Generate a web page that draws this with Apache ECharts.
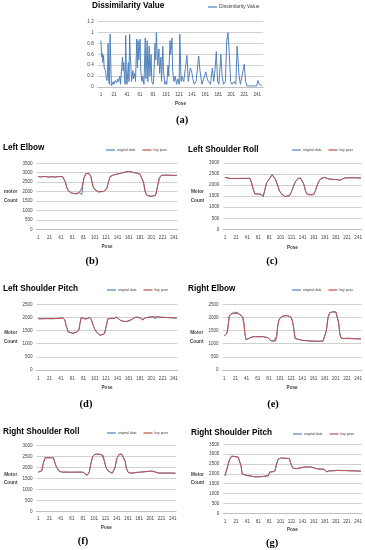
<!DOCTYPE html>
<html><head><meta charset="utf-8">
<script src="https://cdn.jsdelivr.net/npm/echarts@6/dist/echarts.min.js"></script>
<style>html,body{margin:0;padding:0;background:#fff}#c{width:365px;height:550px}</style>
</head><body><div id="c"></div>
<script>
// ---------- data ----------
const poseTicks = [1,21,41,61,81,101,121,141,161,181,201,221,241];

const dissimilarity = [[1,0.85],[2,0.55],[3,0.62],[4,0.45],[5,0.58],[6,0.35],[8,0.3],[9,0.18],[10,0.12],[11,0.2],[12,0.8],[13,0.1],[14,0.05],[15,0.97],[17,0.02],[18,0.05],[20,0.1],[21,0.05],[23,0.12],[25,0.08],[27,0.15],[28,0.1],[30,0.2],[31,0.05],[33,0.02],[34,0.55],[35,0.3],[36,0.45],[38,0.05],[39,0.95],[40,0.2],[41,0.05],[43,0.45],[44,0.1],[45,0.97],[46,0.6],[48,0.1],[50,0.3],[51,0.15],[53,0.25],[54,0.1],[56,0.88],[57,0.35],[58,0.85],[59,0.5],[61,0.88],[62,0.3],[64,0.1],[65,0.2],[67,0.05],[69,0.9],[70,0.15],[72,0.85],[73,0.1],[75,0.75],[76,0.2],[78,0.6],[79,0.1],[81,0.05],[82,0.15],[84,0.8],[85,0.5],[86,1.0],[88,0.4],[90,0.7],[91,0.25],[93,0.55],[94,0.1],[96,0.75],[97,0.3],[99,0.05],[101,0.1],[102,0.05],[104,0.4],[105,0.2],[107,0.85],[108,0.6],[110,0.9],[111,0.3],[113,0.1],[115,0.2],[117,0.05],[119,0.15],[121,0.05],[122,0.97],[124,0.1],[125,0.2],[128,0.1],[133,0.58],[135,0.1],[138,0.35],[140,0.3],[142,0.15],[144,0.05],[147,0.1],[151,0.57],[153,0.3],[156,0.05],[159,0.02],[162,0.28],[164,0.15],[166,0.1],[169,0.05],[172,0.35],[174,0.1],[176,0.3],[178,0.65],[180,0.1],[182,0.05],[185,0.6],[187,0.2],[189,0.05],[192,0.1],[194,0.85],[196,1.0],[198,0.6],[200,0.1],[202,0.05],[205,0.1],[208,0.05],[210,0.75],[213,0.2],[215,0.05],[218,0.05],[221,0.42],[223,0.1],[225,0.02],[232,0.02],[240,0.02],[242,0.12],[244,0.05],[248,0.02]];

const leftElbowOrig = [[1,2800],[5,2780],[8,2760],[12,2800],[16,2790],[20,2770],[25,2790],[30,2770],[35,2790],[40,2800],[44,2790],[47,2750],[49,2500],[51,2250],[54,2050],[57,1980],[60,1920],[64,1900],[68,1880],[71,1860],[73,1950],[76,2050],[78,1850],[80,2400],[82,2750],[85,2950],[88,3000],[91,2950],[94,2800],[96,2500],[98,2250],[101,2100],[104,2000],[108,1980],[112,2000],[116,2000],[119,2050],[122,2150],[125,2500],[128,2800],[131,2870],[136,2900],[141,2930],[146,2970],[151,3000],[156,3050],[161,3060],[166,3040],[171,3000],[176,2970],[181,2920],[184,2850],[187,2500],[190,2000],[193,1800],[196,1760],[200,1750],[204,1770],[208,1790],[210,2000],[212,2300],[215,2700],[218,2850],[222,2870],[230,2870],[240,2860],[246,2860]];
const leftElbowKey = [[1,2800],[5,2780],[8,2760],[12,2800],[16,2790],[20,2770],[25,2790],[30,2770],[35,2790],[40,2800],[44,2790],[47,2750],[49,2500],[51,2250],[54,2050],[57,1980],[60,1920],[64,1900],[68,1880],[71,1860],[73,1950],[76,2080],[78,2200],[80,2450],[82,2750],[85,2950],[88,3000],[91,2950],[94,2800],[96,2500],[98,2250],[101,2100],[104,2000],[108,1980],[112,2000],[116,2000],[119,2050],[122,2150],[125,2500],[128,2800],[131,2870],[136,2900],[141,2930],[146,2970],[151,3000],[156,3050],[161,3060],[166,3040],[171,3000],[176,2970],[181,2920],[184,2850],[187,2500],[190,2000],[193,1800],[196,1760],[200,1750],[204,1770],[208,1790],[210,2000],[212,2300],[215,2700],[218,2850],[222,2870],[230,2870],[240,2860],[246,2860]];

const leftShoulderRollOrig = [[1,2350],[5,2330],[10,2300],[20,2300],[30,2300],[40,2300],[46,2310],[49,2100],[52,1800],[55,1600],[58,1550],[62,1600],[66,1580],[68,1600],[70,1480],[72,1700],[76,2100],[80,2250],[83,2350],[86,2470],[89,2380],[92,2250],[95,2050],[99,1750],[102,1620],[105,1550],[109,1480],[113,1500],[117,1520],[120,1650],[123,1850],[126,2050],[129,2200],[133,2300],[137,2320],[140,2250],[143,2050],[146,1750],[149,1580],[152,1550],[157,1550],[161,1580],[164,1750],[168,2050],[172,2250],[176,2330],[180,2350],[185,2300],[190,2270],[195,2260],[200,2250],[204,2260],[208,2220],[212,2260],[216,2320],[222,2340],[230,2340],[238,2330],[244,2310],[246,2330]];
const leftShoulderRollKey = [[1,2350],[10,2300],[46,2310],[49,2100],[52,1800],[55,1600],[58,1550],[62,1600],[66,1580],[68,1600],[70,1480],[72,1700],[76,2100],[80,2250],[86,2470],[89,2380],[92,2250],[95,2050],[99,1750],[102,1620],[109,1480],[117,1520],[120,1650],[123,1850],[126,2050],[129,2200],[133,2300],[137,2320],[140,2250],[143,2050],[146,1750],[149,1580],[152,1550],[161,1580],[164,1750],[168,2050],[172,2250],[180,2350],[190,2270],[200,2250],[208,2220],[216,2320],[238,2330],[246,2330]];

const leftShoulderPitchOrig = [[1,1950],[3,2000],[8,1950],[15,1960],[25,1950],[35,1960],[41,1980],[45,1980],[48,1900],[50,1700],[52,1650],[54,1450],[57,1420],[62,1400],[66,1420],[70,1450],[73,1550],[75,1800],[77,2000],[79,2050],[82,1950],[87,1950],[90,1980],[92,2000],[95,1900],[98,1700],[101,1550],[104,1450],[107,1400],[110,1320],[114,1350],[118,1380],[121,1650],[124,1950],[127,2000],[131,1970],[135,1960],[139,2010],[143,1950],[147,1880],[152,1850],[158,1850],[163,1880],[167,1930],[172,2000],[177,2010],[182,1970],[186,1900],[189,1980],[192,2020],[198,2020],[204,2030],[208,1940],[210,2020],[216,2010],[224,2000],[232,1990],[240,1980],[246,1980]];
const leftShoulderPitchKey = [[1,1950],[3,2000],[8,1950],[35,1960],[45,1980],[48,1900],[50,1700],[52,1650],[54,1450],[57,1420],[62,1400],[70,1450],[73,1550],[75,1800],[77,2000],[79,2050],[82,1950],[87,1950],[92,2000],[95,1900],[98,1700],[101,1550],[104,1450],[107,1400],[110,1320],[118,1380],[121,1650],[124,1950],[127,2000],[135,1960],[139,2010],[143,1950],[147,1880],[152,1850],[158,1850],[167,1930],[172,2000],[177,2010],[182,1970],[186,1900],[189,1980],[192,2020],[204,2030],[216,2010],[246,1980]];

const rightElbowOrig = [[1,1300],[4,1330],[6,1400],[8,1700],[10,2050],[13,2130],[16,2150],[19,2200],[22,2220],[25,2180],[28,2120],[31,2080],[34,2000],[36,1800],[38,1400],[40,1150],[42,1130],[45,1200],[50,1250],[55,1270],[60,1260],[65,1260],[70,1270],[75,1250],[79,1230],[82,1180],[85,1110],[90,1100],[93,1100],[95,1300],[97,1700],[99,1900],[102,2000],[106,2050],[112,2070],[117,2050],[121,2000],[124,1800],[126,1500],[128,1200],[131,1150],[135,1160],[140,1130],[150,1110],[160,1100],[170,1090],[178,1100],[181,1150],[184,1500],[187,2000],[190,2180],[195,2210],[201,2210],[204,2150],[206,1800],[208,1400],[210,1220],[215,1200],[222,1210],[230,1200],[238,1190],[246,1180]];
const rightElbowKey = [[1,1300],[4,1330],[6,1400],[8,1700],[10,2050],[13,2130],[16,2140],[19,2150],[22,2160],[25,2150],[28,2120],[31,2080],[34,2000],[36,1800],[38,1400],[40,1150],[42,1130],[45,1200],[50,1250],[55,1270],[70,1270],[79,1230],[82,1180],[85,1110],[93,1100],[95,1300],[97,1700],[99,1900],[102,2000],[106,2050],[112,2070],[117,2050],[121,2000],[124,1800],[126,1500],[128,1200],[131,1150],[135,1160],[140,1130],[160,1100],[178,1100],[181,1150],[184,1500],[187,2000],[190,2180],[195,2210],[201,2210],[204,2150],[206,1800],[208,1400],[210,1220],[215,1200],[246,1180]];

const rightShoulderRollOrig = [[1,1800],[4,1750],[7,1850],[10,2200],[13,2450],[18,2460],[23,2450],[28,2450],[31,2200],[34,2000],[38,1850],[43,1800],[52,1800],[60,1790],[70,1800],[78,1800],[82,1780],[85,1700],[88,1650],[90,1640],[92,1800],[95,2200],[98,2500],[101,2600],[106,2620],[111,2610],[114,2600],[117,2550],[119,2300],[122,2000],[126,1850],[129,1760],[133,1750],[136,1800],[138,2000],[141,2400],[145,2600],[150,2620],[153,2550],[156,2300],[158,2000],[161,1800],[165,1750],[171,1760],[177,1790],[183,1800],[190,1810],[197,1830],[204,1850],[209,1820],[215,1760],[222,1750],[230,1760],[238,1760],[246,1750]];
const rightShoulderRollKey = [[1,1800],[4,1750],[7,1850],[10,2200],[13,2450],[28,2450],[31,2200],[34,2000],[38,1850],[43,1800],[78,1800],[82,1780],[85,1700],[88,1650],[90,1640],[92,1800],[95,2200],[98,2500],[101,2600],[106,2620],[114,2600],[117,2550],[119,2300],[122,2000],[126,1850],[129,1760],[133,1750],[136,1800],[138,2000],[141,2400],[145,2600],[150,2620],[153,2550],[156,2300],[158,2000],[161,1800],[165,1750],[183,1800],[204,1850],[215,1760],[246,1750]];

const rightShoulderPitchOrig = [[1,1900],[4,1850],[6,2400],[9,2700],[13,2900],[19,2880],[25,2850],[28,2800],[30,2400],[32,2000],[37,1950],[43,1900],[49,1880],[55,1850],[61,1850],[67,1860],[73,1890],[79,1900],[82,2100],[86,2100],[91,2150],[94,2500],[97,2750],[101,2800],[106,2800],[112,2790],[117,2780],[120,2500],[123,2300],[129,2260],[135,2300],[140,2330],[145,2350],[150,2350],[155,2350],[160,2320],[164,2280],[168,2250],[174,2250],[180,2230],[182,2150],[184,2100],[188,2150],[194,2150],[200,2160],[206,2180],[212,2160],[218,2170],[224,2160],[232,2150],[240,2150],[246,2140]];
const rightShoulderPitchKey = [[1,1900],[4,1850],[6,2400],[9,2700],[13,2900],[25,2850],[28,2800],[30,2400],[32,2000],[37,1950],[55,1850],[67,1860],[79,1900],[82,2100],[86,2100],[91,2150],[94,2500],[97,2750],[101,2800],[117,2780],[120,2500],[123,2300],[129,2260],[145,2350],[155,2350],[168,2250],[180,2230],[184,2100],[188,2150],[206,2180],[224,2160],[246,2140]];

// ---------- layout ----------
const FONT = '"Liberation Sans",Arial,sans-serif';
const BLUE = '#4F81BD', RED = '#C0504D';

const panels = [
  {title:'Dissimilarity Value', tx:92, ty:2, cap:'(a)', cx:182, cy:120, l:97.7, t:21.7, w:165.5, h:65.3, xmin:-4, xmax:250, ymax:1.2, yint:0.2, yname:'', lm:5.5, ng:14, lgx:208, lgy:4.5, lgf:5,
   series:[{name:'Dissimilarity Value', data:dissimilarity, color:BLUE}]},
  {title:'Left Elbow', tx:3, ty:143.5, cap:'(b)', cx:92, cy:261, l:36.6, t:163.3, w:140.8, h:66, xmin:-2, xmax:247, ymax:3500, yint:500, yname:'motor\nCount', lm:6, ng:15, lgx:106, lgy:148.5,
   series:[{name:'original data', data:leftElbowOrig, color:BLUE},{name:'key pose', data:leftElbowKey, color:RED}]},
  {title:'Left Shoulder Roll', tx:188, ty:145.5, cap:'(c)', cx:272, cy:261, l:223.3, t:163, w:138.3, h:66.3, xmin:-2, xmax:247, ymax:3000, yint:500, yname:'Motor\nCount', lm:6, ng:15.5, lgx:292, lgy:148.5,
   series:[{name:'original data', data:leftShoulderRollOrig, color:BLUE},{name:'key pose', data:leftShoulderRollKey, color:RED}]},
  {title:'Left Shoulder Pitch', tx:3, ty:284.5, cap:'(d)', cx:86, cy:404, l:36.6, t:304.3, w:140.8, h:65.7, xmin:-2, xmax:247, ymax:2500, yint:500, yname:'Motor\nCount', lm:6, ng:15, lgx:107, lgy:288.5,
   series:[{name:'original data', data:leftShoulderPitchOrig, color:BLUE},{name:'key pose', data:leftShoulderPitchKey, color:RED}]},
  {title:'Right Elbow', tx:188, ty:284.5, cap:'(e)', cx:273, cy:404, l:222.6, t:304.3, w:139, h:65.7, xmin:-2, xmax:247, ymax:2500, yint:500, yname:'Motor\nCount', lm:6, ng:15, lgx:292, lgy:288.5,
   series:[{name:'original data', data:rightElbowOrig, color:BLUE},{name:'key pose', data:rightElbowKey, color:RED}]},
  {title:'Right Shoulder Roll', tx:3, ty:427.5, cap:'(f)', cx:83, cy:541, l:36.6, t:445.7, w:139.5, h:66, xmin:-2, xmax:247, ymax:3000, yint:500, yname:'Motor\nCount', lm:4.5, ng:14, lgx:107, lgy:431.5,
   series:[{name:'original data', data:rightShoulderRollOrig, color:BLUE},{name:'key pose', data:rightShoulderRollKey, color:RED}]},
  {title:'Right Shoulder Pitch', tx:191, ty:428.5, cap:'(g)', cx:272, cy:543, l:223.3, t:444.3, w:139.1, h:69, xmin:-2, xmax:247, ymax:3500, yint:500, yname:'Motor\nCount', lm:6, ng:14, lgx:293, lgy:432.5,
   series:[{name:'original data', data:rightShoulderPitchOrig, color:BLUE},{name:'key pose', data:rightShoulderPitchKey, color:RED}]}
];

const lab = {fontFamily:FONT, fontSize:4.6, color:'#404040'};
const option = {
  animation:false,
  backgroundColor:'#fff',
  title: panels.map(p => ({text:p.title, left:p.tx, top:p.ty, padding:0,
    textStyle:{fontFamily:FONT, fontSize:8.2, fontWeight:'bold', color:'#000'}})),
  legend: panels.map(p => ({left:p.lgx, top:p.lgy, padding:0, itemGap:7, itemWidth:9, itemHeight:1.2, icon:'rect',
    data:p.series.map(s => s.name), selectedMode:false,
    textStyle:{fontFamily:FONT, fontSize:p.lgf || 3.4, color:'#404040', padding:[0,0,0,-3]}})),
  grid: panels.map(p => ({left:p.l, top:p.t, width:p.w, height:p.h})),
  xAxis: panels.map((p,i) => ({gridIndex:i, type:'value', min:p.xmin, max:p.xmax,
    axisLabel:{customValues:poseTicks, margin:p.lm, ...lab},
    axisTick:{show:false}, splitLine:{show:false},
    axisLine:{lineStyle:{color:'#bfbfbf', width:1}},
    name:'Pose', nameLocation:'middle', nameGap:p.ng,
    nameTextStyle:{fontFamily:FONT, fontSize:4.6, fontWeight:'bold', color:'#404040'}})),
  yAxis: panels.map((p,i) => ({gridIndex:i, type:'value', min:0, max:p.ymax, interval:p.yint,
    axisLabel:{margin:4, formatter:v => String(v), ...lab},
    axisLine:{show:false}, axisTick:{show:false},
    splitLine:{lineStyle:{color:'#d0d0d0', width:1}},
    name:p.yname, nameLocation:'middle', nameRotate:0, nameGap:25,
    nameTextStyle:{fontFamily:FONT, fontSize:4.7, fontWeight:'bold', color:'#404040', align:'center', verticalAlign:'middle', lineHeight:8.5}})),
  graphic: panels.map(p => ({type:'text', x:p.cx, y:p.cy,
    style:{text:p.cap, align:'center', verticalAlign:'middle', fontFamily:'"Liberation Serif","DejaVu Serif",serif', fontSize:10.5, fontWeight:'bold', fill:'#000'}})),
  series: panels.flatMap((p,i) => p.series.map(s => ({type:'line', name:s.name, xAxisIndex:i, yAxisIndex:i,
    data:s.data, showSymbol:false, symbol:'none', color:s.color,
    lineStyle:{color:s.color, width:1}})))
};
const chart = echarts.init(document.getElementById('c'), null, {renderer:'canvas'});
chart.setOption(option);
</script>
</body></html>
